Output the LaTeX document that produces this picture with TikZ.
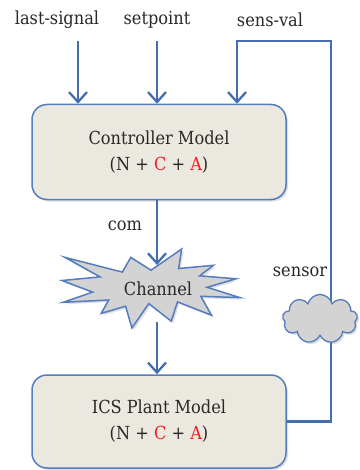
\documentclass[tikz,border=0pt]{standalone}
\usepackage{fontspec}
\setmainfont{DejaVu Serif Condensed}
\usetikzlibrary{arrows.meta,shapes.symbols,shadows}
\definecolor{lineblue}{RGB}{68,110,175}
\definecolor{boxblue}{RGB}{84,124,190}
\definecolor{boxfill}{RGB}{235,233,223}
\definecolor{grayfill}{RGB}{211,211,211}
\definecolor{redtxt}{RGB}{240,30,35}
\definecolor{txt}{RGB}{40,40,40}
\begin{document}
\begin{tikzpicture}[x=1pt,y=-1pt,
  conn/.style={draw=lineblue, line width=2.8pt},
  arr/.style={conn, -{Straight Barb[length=10pt,width=18pt,line width=2.3pt]}},
  sh/.style={drop shadow={opacity=0.25, shadow xshift=2pt, shadow yshift=-2pt}},
  model/.style={draw=boxblue, line width=1.5pt, fill=boxfill, rounded corners=15pt,
    minimum width=254pt, minimum height=95pt, align=center,
    font=\fontsize{18}{26}\selectfont, text=txt, sh},
  lbl/.style={font=\fontsize{18}{22}\selectfont, text=txt, inner sep=0pt}
]
\useasboundingbox (0,0) rectangle (359,470);

% nodes
\node[model] (ctrl) at (159,152) {Controller Model\\(N + \textcolor{redtxt}{C} + \textcolor{redtxt}{A})};
\node[model, minimum height=93pt] (plant) at (159,421.5) {ICS Plant Model\\(N + \textcolor{redtxt}{C} + \textcolor{redtxt}{A})};

\node[lbl] (lsig) at (57,20) {last-signal};
\node[lbl] (setp) at (157,20) {setpoint};
\node[lbl] (sval) at (270,20) {sens-val};
\node[lbl] (com) at (125,226) {com};
\node[lbl] (senslbl) at (300,272) {sensor};

\coordinate (ls) at (78,41);
\coordinate (sp) at (157,41);
\coordinate (fbl) at (237,41);
\coordinate (fbr) at (331,41);
\coordinate (chtop) at (157,265);
\coordinate (chbot) at (157,322);

% connectors
\draw[arr] (ls) -- (ls |- ctrl.north);
\draw[arr] (sp) -- (sp |- ctrl.north);
\draw[arr, line join=miter] (plant.east) -| (fbr) -- (fbl) -- (fbl |- ctrl.north);
\draw[arr] (chtop |- ctrl.south) -- (chtop);
\draw[arr] (chbot) -- (chbot |- plant.north);

% channel burst
\path[draw=boxblue, line width=1.5pt, fill=grayfill, line join=miter, sh]
  (151,270.2) -- (181.7,249) -- (178.6,268.5) -- (213.5,265.3) -- (199.6,275.8)
  -- (235.9,278.8) -- (207.1,287.3) -- (240,297.6) -- (200.8,296.3) -- (211.5,315.2)
  -- (177.5,301.9) -- (171.2,321.2) -- (148.8,303.6) -- (131.9,328) -- (125.6,306.2)
  -- (101.2,313.4) -- (108.7,300) -- (63.1,302.3) -- (92.7,292.1) -- (62,280.5)
  -- (100.1,276.9) -- (65,257.4) -- (122.3,272.1) -- (130.8,257.4) -- cycle;
\node[lbl] (chan) at (158,289) {Channel};

% sensor cloud
\node[cloud, cloud puffs=9, aspect=1.6, draw=boxblue, fill=grayfill, line width=1.3pt,
  minimum width=75pt, minimum height=49pt, inner sep=0pt, sh] (sens) at (320,319) {};
\end{tikzpicture}
\end{document}
